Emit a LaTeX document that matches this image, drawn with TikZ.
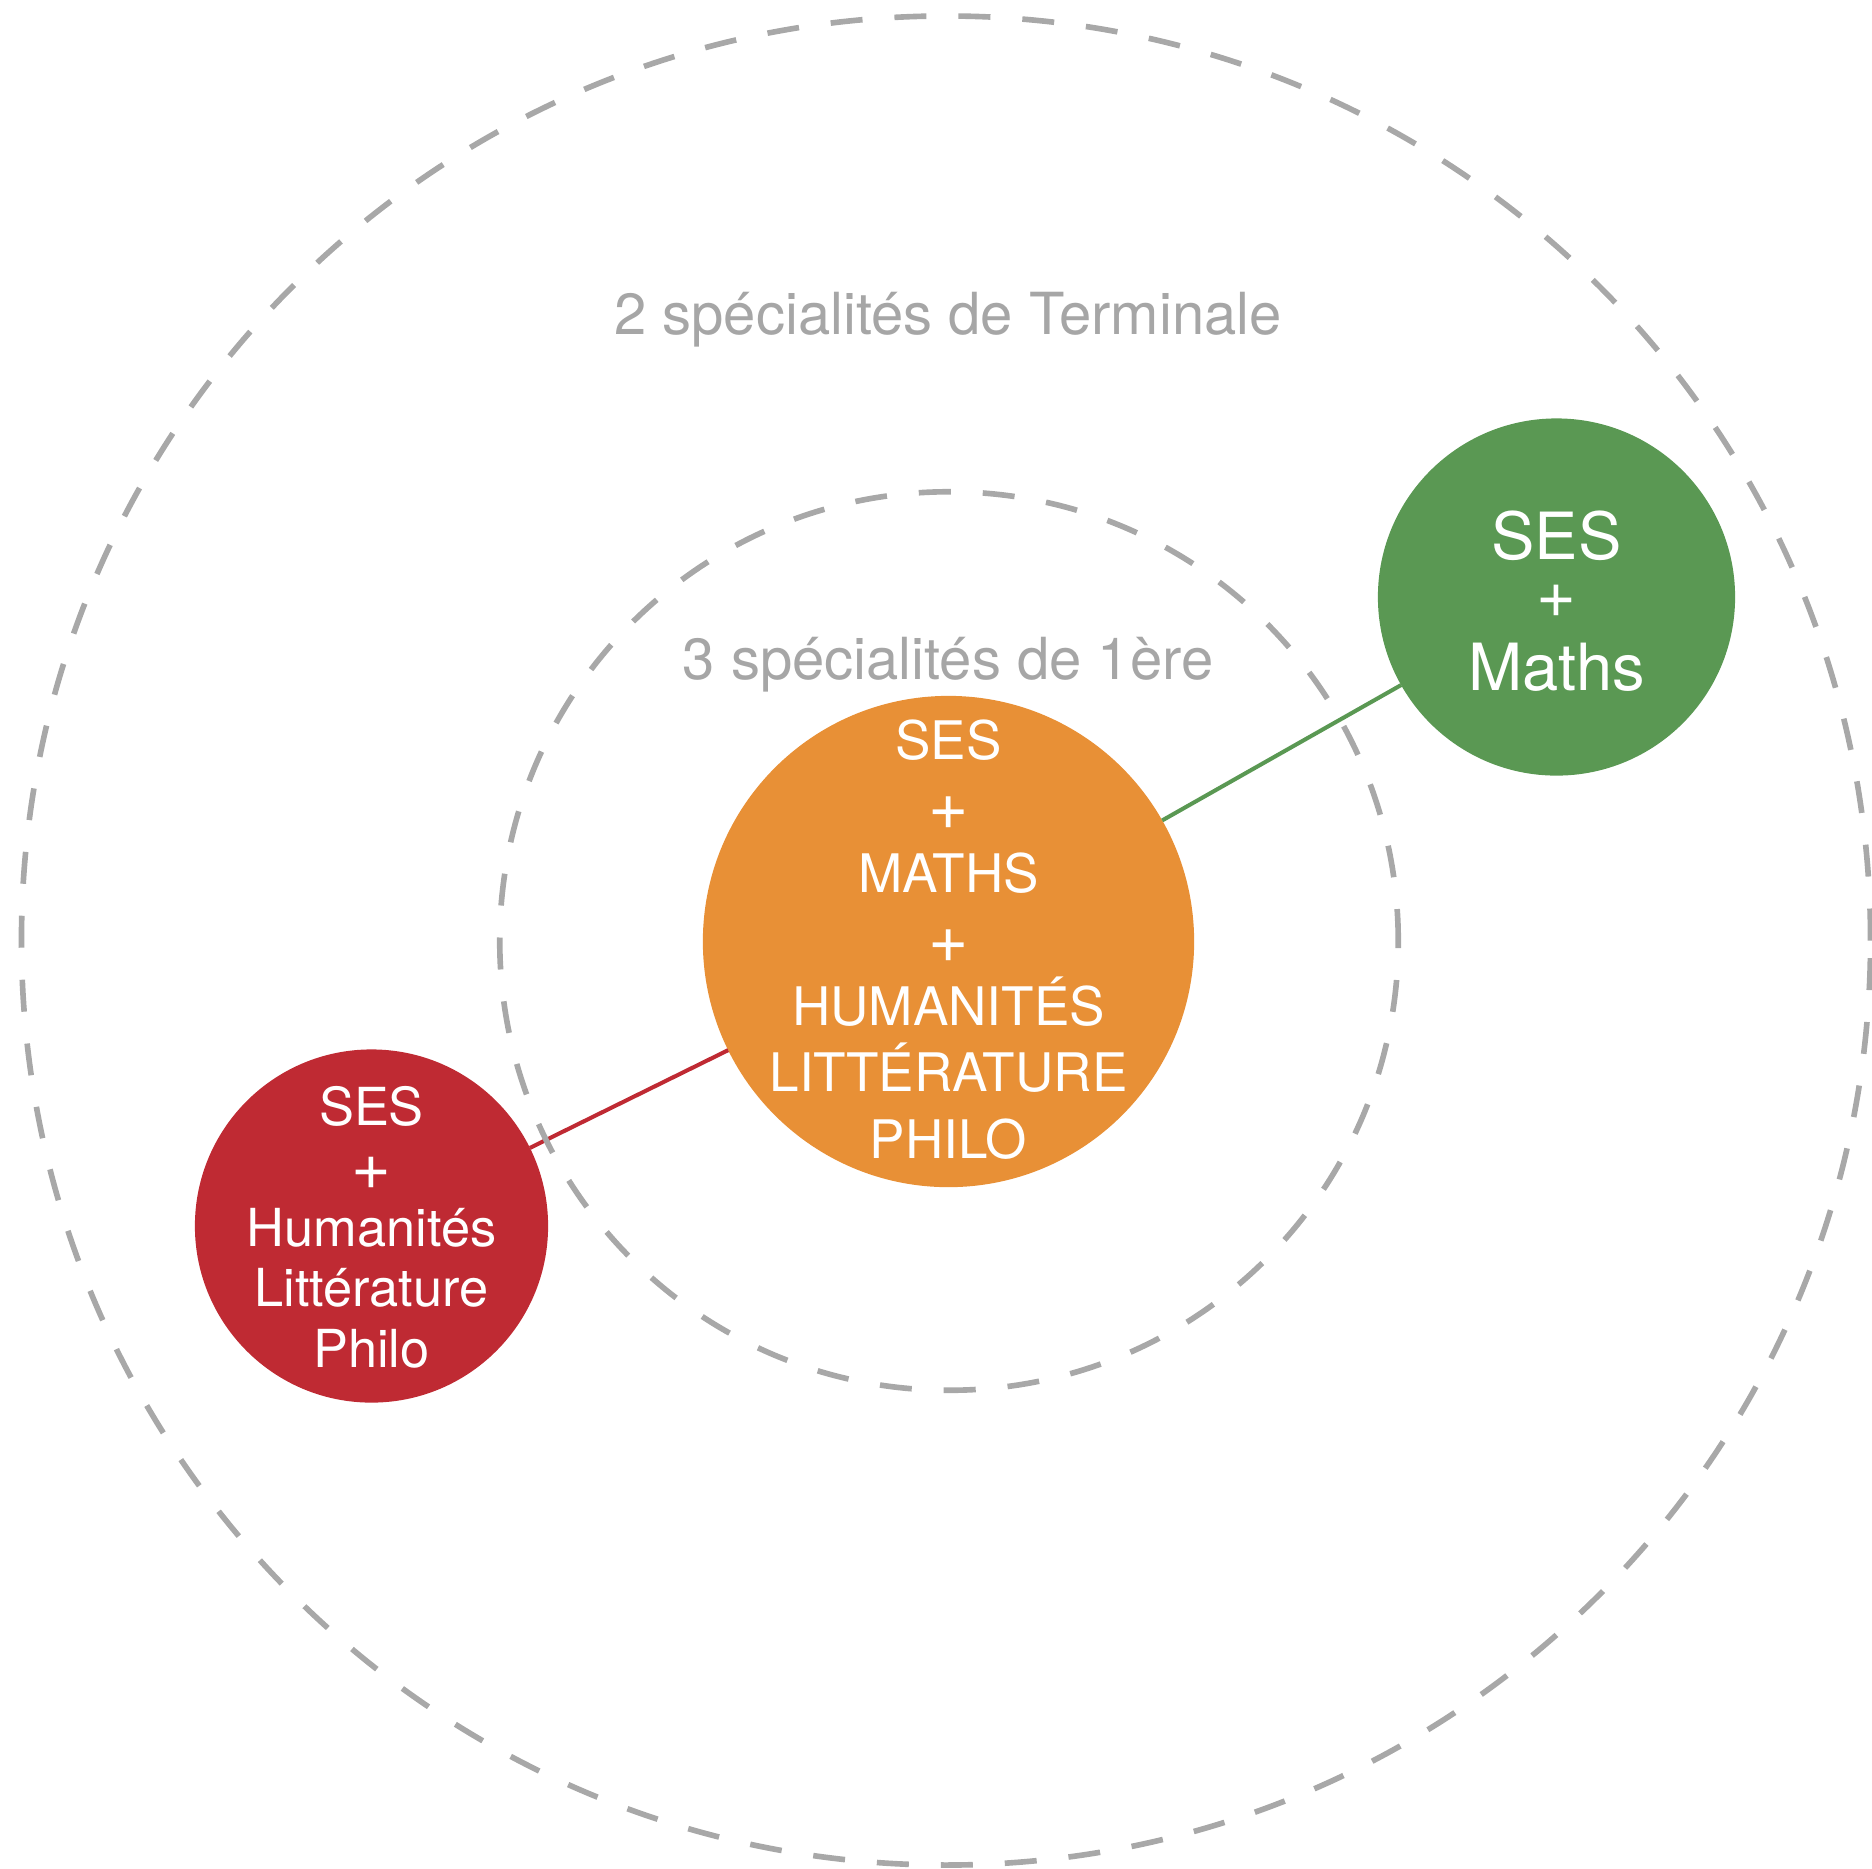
\documentclass[tikz,border=0pt]{standalone}
\usepackage{graphicx}
\usepackage{fontspec}
\setmainfont{TeX Gyre Heros}
\definecolor{ringgray}{HTML}{A8A8A8}
\definecolor{labelgray}{HTML}{A6A6A6}
\definecolor{orangec}{HTML}{E89036}
\definecolor{greenc}{HTML}{5A9853}
\definecolor{redc}{HTML}{BF2A33}
\newcommand{\bigplus}{\raisebox{-0.07em}{\scalebox{1.3}{+}}}
\tikzset{
  ring/.style={circle, draw=ringgray, line width=1.6pt, dash pattern=on 9.1pt off 9.1pt, inner sep=0pt},
  blob/.style={circle, inner sep=0pt, outer sep=0pt},
  link/.style={line width=1.15pt},
  ringlabel/.style={text=labelgray, anchor=base, inner sep=0pt, font=\fontsize{16.5pt}{19pt}\selectfont},
  blobtext/.style={text=white, align=center, inner sep=0pt}
}
\begin{document}
\begin{tikzpicture}[x=0.01cm,y=-0.01cm]
\useasboundingbox (0,0) rectangle (1872,1868);
% coloured circles
\node[blob, fill=orangec, minimum size=4.91cm] (orange) at (948.5,941.5) {};
\node[blob, fill=greenc, minimum size=3.57cm] (green) at (1556.5,597) {};
\node[blob, fill=redc, minimum size=3.53cm] (red) at (371.5,1226) {};
% connectors
\draw[link, draw=greenc] (orange) -- (green);
\draw[link, draw=redc] (orange) -- (red);
% dashed rings
\node[ring, minimum size=18.48cm] (outer) at (946,940.5) {};
\node[ring, minimum size=8.98cm] (inner) at (949,941) {};
% ring labels
\node[ringlabel] (lab2) at (948,334) {2 spécialités de Terminale};
\node[ringlabel] (lab3) at (948,679) {3 spécialités de 1ère};
% texts
\node[blobtext, font=\fontsize{15.1pt}{18.9pt}\selectfont] (otext) at (948.5,939.5)
  {SES\\\bigplus\\MATHS\\\bigplus\\HUMANITÉS\\LITTÉRATURE\\PHILO};
\node[blobtext, font=\fontsize{18.5pt}{18.6pt}\selectfont] (gtext) at (1556.5,601)
  {SES\\\raisebox{0.12em}{\scalebox{1.05}{+}}\\Maths};
\node[blobtext, font=\fontsize{14.9pt}{17.2pt}\selectfont] (rtext) at (371.5,1227)
  {SES\\\bigplus\\Humanités\\Littérature\\Philo};
\end{tikzpicture}
\end{document}
